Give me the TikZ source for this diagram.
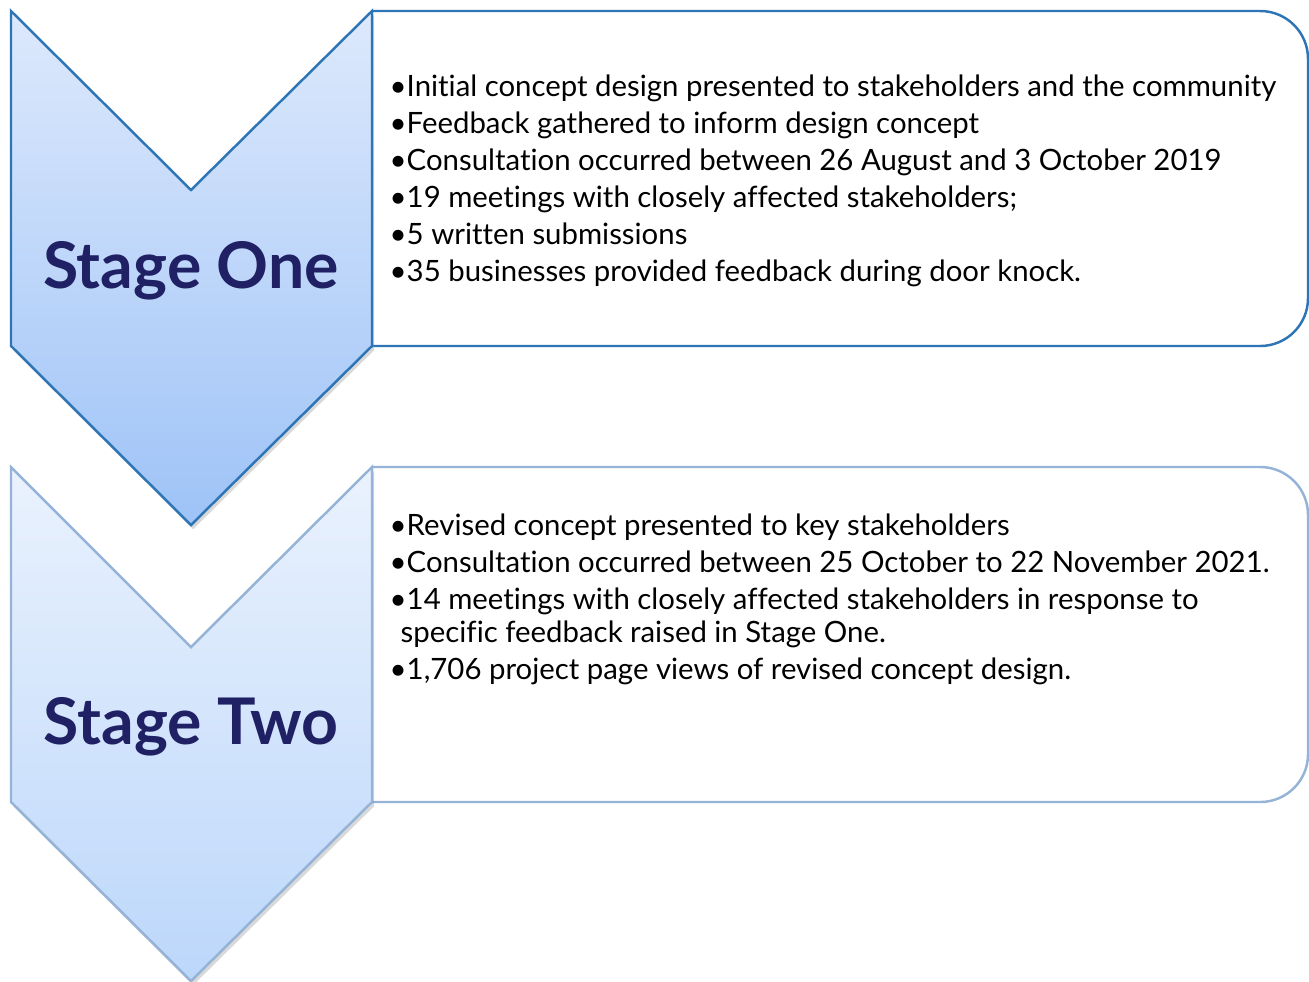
\documentclass[tikz,border=0pt]{standalone}
\usepackage{fontspec}
\setmainfont{Lato}[Ligatures={NoCommon}]
\usetikzlibrary{shadows}

\definecolor{lineone}{RGB}{46,117,182}
\definecolor{linetwo}{RGB}{149,179,215}
\definecolor{topone}{RGB}{221,233,252}
\definecolor{botone}{RGB}{158,195,247}
\definecolor{toptwo}{RGB}{234,242,253}
\definecolor{bottwo}{RGB}{188,215,251}
\definecolor{stagetext}{RGB}{32,32,100}

\tikzset{
  chevron/.style={line width=0.7pt, line join=miter,
    drop shadow={opacity=0.3, shadow xshift=0.6pt, shadow yshift=-1.2pt}},
  listbox/.style={line width=0.7pt, fill=white},
  bullets/.style={anchor=north west, inner sep=0pt, align=left,
    font=\fontsize{8.35}{10.53}\selectfont},
  stagelabel/.style={inner sep=0pt, text=stagetext,
    font=\fontsize{18.3}{22}\selectfont\bfseries}
}

\begin{document}
\begin{tikzpicture}[x=0.01cm, y=-0.01cm]

    \useasboundingbox (0,0) rectangle (1309,981);

    % stage one
    \draw [listbox, draw=lineone] (372,346) -- (372,11) [rounded corners=13.6pt] -- (1308,11) -- (1308,346) [sharp corners] -- cycle;
    \draw [chevron, draw=lineone, top color=topone, bottom color=botone]
      (11,11) -- (191,190) -- (372,11) -- (372,346) -- (191,525) -- (11,346) -- cycle;
    \node [stagelabel] (stageone) at (191,271) {Stage One};
    \node [bullets] (listone) at (389,74) {%
      •Initial concept design presented to stakeholders and the community\\
      •Feedback gathered to inform design concept\\
      •Consultation occurred between 26 August and 3 October 2019\\
      •19 meetings with closely affected stakeholders;\\
      •5 written submissions\\
      •35 businesses provided feedback during door knock.};

    % stage two
    \draw [listbox, draw=linetwo] (372,802) -- (372,467) [rounded corners=13.6pt] -- (1308,467) -- (1308,802) [sharp corners] -- cycle;
    \draw [chevron, draw=linetwo, top color=toptwo, bottom color=bottwo]
      (11,467) -- (191,647) -- (372,467) -- (372,802) -- (191,981) -- (11,802) -- cycle;
    \node [stagelabel] (stagetwo) at (191,727) {Stage Two};
    \node [bullets] (listtwo) at (389,513) {%
      •Revised concept presented to key stakeholders\\
      •Consultation occurred between 25 October to 22 November 2021.\\
      •14 meetings with closely affected stakeholders in response to\\[-1.2pt]
      \hspace*{1.1mm}specific feedback raised in Stage One.\\
      •1,706 project page views of revised concept design.};

\end{tikzpicture}
\end{document}
